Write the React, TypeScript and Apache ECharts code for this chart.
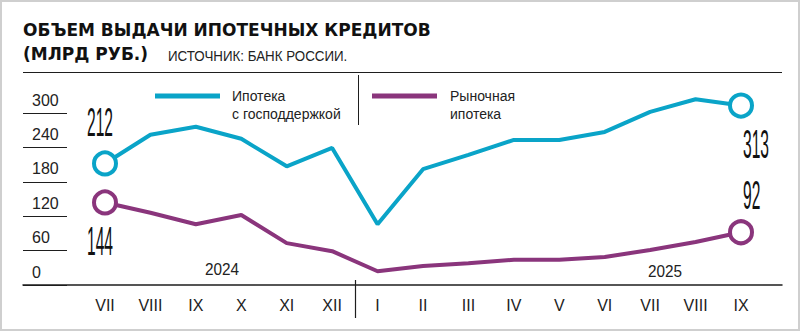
import { useEffect, useRef } from "react";
import * as echarts from "echarts";

const months = ["VII", "VIII", "IX", "X", "XI", "XII", "I", "II", "III", "IV", "V", "VI", "VII", "VIII", "IX"];
const stateSupported = [212, 262, 276, 255, 207, 239, 106, 202, 227, 253, 253, 267, 302, 324, 313];
const market = [144, 126, 106, 122, 73, 59, 24, 33, 38, 44, 44, 49, 61, 75, 92];
const seriesNames = ["Ипотека\nс господдержкой", "Рыночная\nипотека"];
const years = ["2024", "2025"];
const yMin = 0;
const yMax = 300;
const yStep = 60;

const CYAN = "#0aa4c8";
const PURPLE = "#8a357c";
const INK = "#1e1e1e";
const SANS = "'Liberation Sans', Arial, sans-serif";

function withEndCircles(values: number[], color: string) {
  return values.map((v, i) =>
    i === 0 || i === values.length - 1
      ? { value: v, symbol: "circle", symbolSize: 22, itemStyle: { color: "#fff", borderColor: color, borderWidth: 4 } }
      : { value: v, symbol: "none" }
  );
}

export default function App() {
  const ref = useRef<HTMLDivElement>(null);
  useEffect(() => {
    if (!ref.current) return;
    const chart = echarts.init(ref.current, null, { renderer: "svg" });
    const baseGraphic: any[] = [
      { type: "text", x: 23, y: 30, style: { text: "ОБЪЕМ ВЫДАЧИ ИПОТЕЧНЫХ КРЕДИТОВ", font: "bold 17px 'DejaVu Sans', sans-serif", fill: "#111", verticalAlign: "middle" } },
      { type: "text", x: 23, y: 54, style: { text: "(МЛРД РУБ.)", font: "bold 17px 'DejaVu Sans', sans-serif", fill: "#111", verticalAlign: "middle" } },
      { type: "text", x: 168, y: 56, scaleX: 0.89, style: { text: "ИСТОЧНИК: БАНК РОССИИ.", font: `15px ${SANS}`, fill: "#222", verticalAlign: "middle" } },
      { type: "line", shape: { x1: 23, y1: 72.5, x2: 782, y2: 72.5 }, style: { stroke: INK, lineWidth: 1 } },
      { type: "line", shape: { x1: 358.5, y1: 75, x2: 358.5, y2: 125 }, style: { stroke: INK, lineWidth: 1 } },
      { type: "line", shape: { x1: 155, y1: 96, x2: 220, y2: 96 }, style: { stroke: CYAN, lineWidth: 5 } },
      { type: "text", x: 232, y: 105, style: { text: seriesNames[0], font: `14px ${SANS}`, fill: "#222", verticalAlign: "middle", lineHeight: 18 } },
      { type: "line", shape: { x1: 372, y1: 96, x2: 437, y2: 96 }, style: { stroke: PURPLE, lineWidth: 5 } },
      { type: "text", x: 450, y: 105, style: { text: seriesNames[1], font: `14px ${SANS}`, fill: "#222", verticalAlign: "middle", lineHeight: 18 } },
      { type: "text", x: 222, y: 269, scaleX: 0.9, style: { text: years[0], font: `17px ${SANS}`, fill: "#222", align: "center", verticalAlign: "middle" } },
      { type: "text", x: 665, y: 271, scaleX: 0.9, style: { text: years[1], font: `17px ${SANS}`, fill: "#222", align: "center", verticalAlign: "middle" } },
    ];
    chart.setOption({
      animation: false,
      grid: [
        { left: 105, right: 59, top: 285 - (360 * 172) / 300, bottom: 46 },
        { left: 23, width: 44, top: 113, bottom: 46 },
        { left: 23, right: 18, top: 113, bottom: 46 },
      ],
      xAxis: [
        {
          type: "category", gridIndex: 0, data: months, boundaryGap: false,
          axisLine: { show: false }, axisTick: { show: false },
          axisLabel: { margin: 12, color: "#222", fontFamily: SANS, fontSize: 16, interval: 0 },
        },
        { type: "value", gridIndex: 1, show: false },
        { type: "value", gridIndex: 2, show: true, axisLine: { show: true, onZero: false, lineStyle: { color: INK, width: 1.5 } }, axisTick: { show: false }, axisLabel: { show: false }, splitLine: { show: false } },
      ],
      yAxis: [
        { type: "value", gridIndex: 0, min: 0, max: 360, show: false },
        {
          type: "value", gridIndex: 1, min: yMin, max: yMax, interval: yStep,
          axisLine: { show: false }, axisTick: { show: false },
          splitLine: { show: true, lineStyle: { color: INK, width: 1 } },
          axisLabel: { inside: true, margin: 9, color: "#222", fontFamily: SANS, fontSize: 16, verticalAlign: "bottom", padding: [0, 0, 5, 0] },
        },
        { type: "value", gridIndex: 2, min: yMin, max: yMax, show: false },
      ],
      series: [
        { type: "line", name: seriesNames[0], xAxisIndex: 0, yAxisIndex: 0, data: withEndCircles(stateSupported, CYAN), symbol: "none", showSymbol: true, lineStyle: { color: CYAN, width: 4 }, itemStyle: { color: CYAN }, z: 3 },
        { type: "line", name: seriesNames[1], xAxisIndex: 0, yAxisIndex: 0, data: withEndCircles(market, PURPLE), symbol: "none", showSymbol: true, lineStyle: { color: PURPLE, width: 4 }, itemStyle: { color: PURPLE }, z: 3 },
      ],
      graphic: baseGraphic,
    });

    const px = (i: number, v: number) => chart.convertToPixel({ gridIndex: 0 }, [i, v]) as number[];
    const last = months.length - 1;
    const numFont = `40px ${SANS}`;
    const mk = (p: number[], dx: number, dy: number, text: string, align: string) => ({
      type: "text", x: p[0] + dx, y: p[1] + dy, scaleX: 0.39,
      style: { text, font: numFont, fill: "#111", align, verticalAlign: "middle" },
    });
    const a0 = px(0, stateSupported[0]);
    const b0 = px(0, market[0]);
    const aL = px(last, stateSupported[last]);
    const bL = px(last, market[last]);
    const d1 = px(5, 0);
    const d2 = px(6, 0);
    const divX = Math.round((d1[0] + d2[0]) / 2) + 0.5;
    chart.setOption({
      graphic: [
        ...baseGraphic,
        mk(a0, 8, -41, String(stateSupported[0]), "right"),
        mk(b0, 8, 39, String(market[0]), "right"),
        mk(aL, 2, 39, String(stateSupported[last]), "left"),
        mk(bL, 2, -37, String(market[last]), "left"),
        { type: "line", shape: { x1: divX, y1: 280, x2: divX, y2: 318 }, style: { stroke: INK, lineWidth: 1.2 } },
      ],
    });
    return () => chart.dispose();
  }, []);
  return (
    <div style={{ position: "fixed", left: 0, top: 0, width: 800, height: 331, boxSizing: "border-box", border: "2px solid #cfcfcf", background: "#fff" }}>
      <div ref={ref} style={{ position: "absolute", left: -2, top: -2, width: 800, height: 331 }} />
    </div>
  );
}
